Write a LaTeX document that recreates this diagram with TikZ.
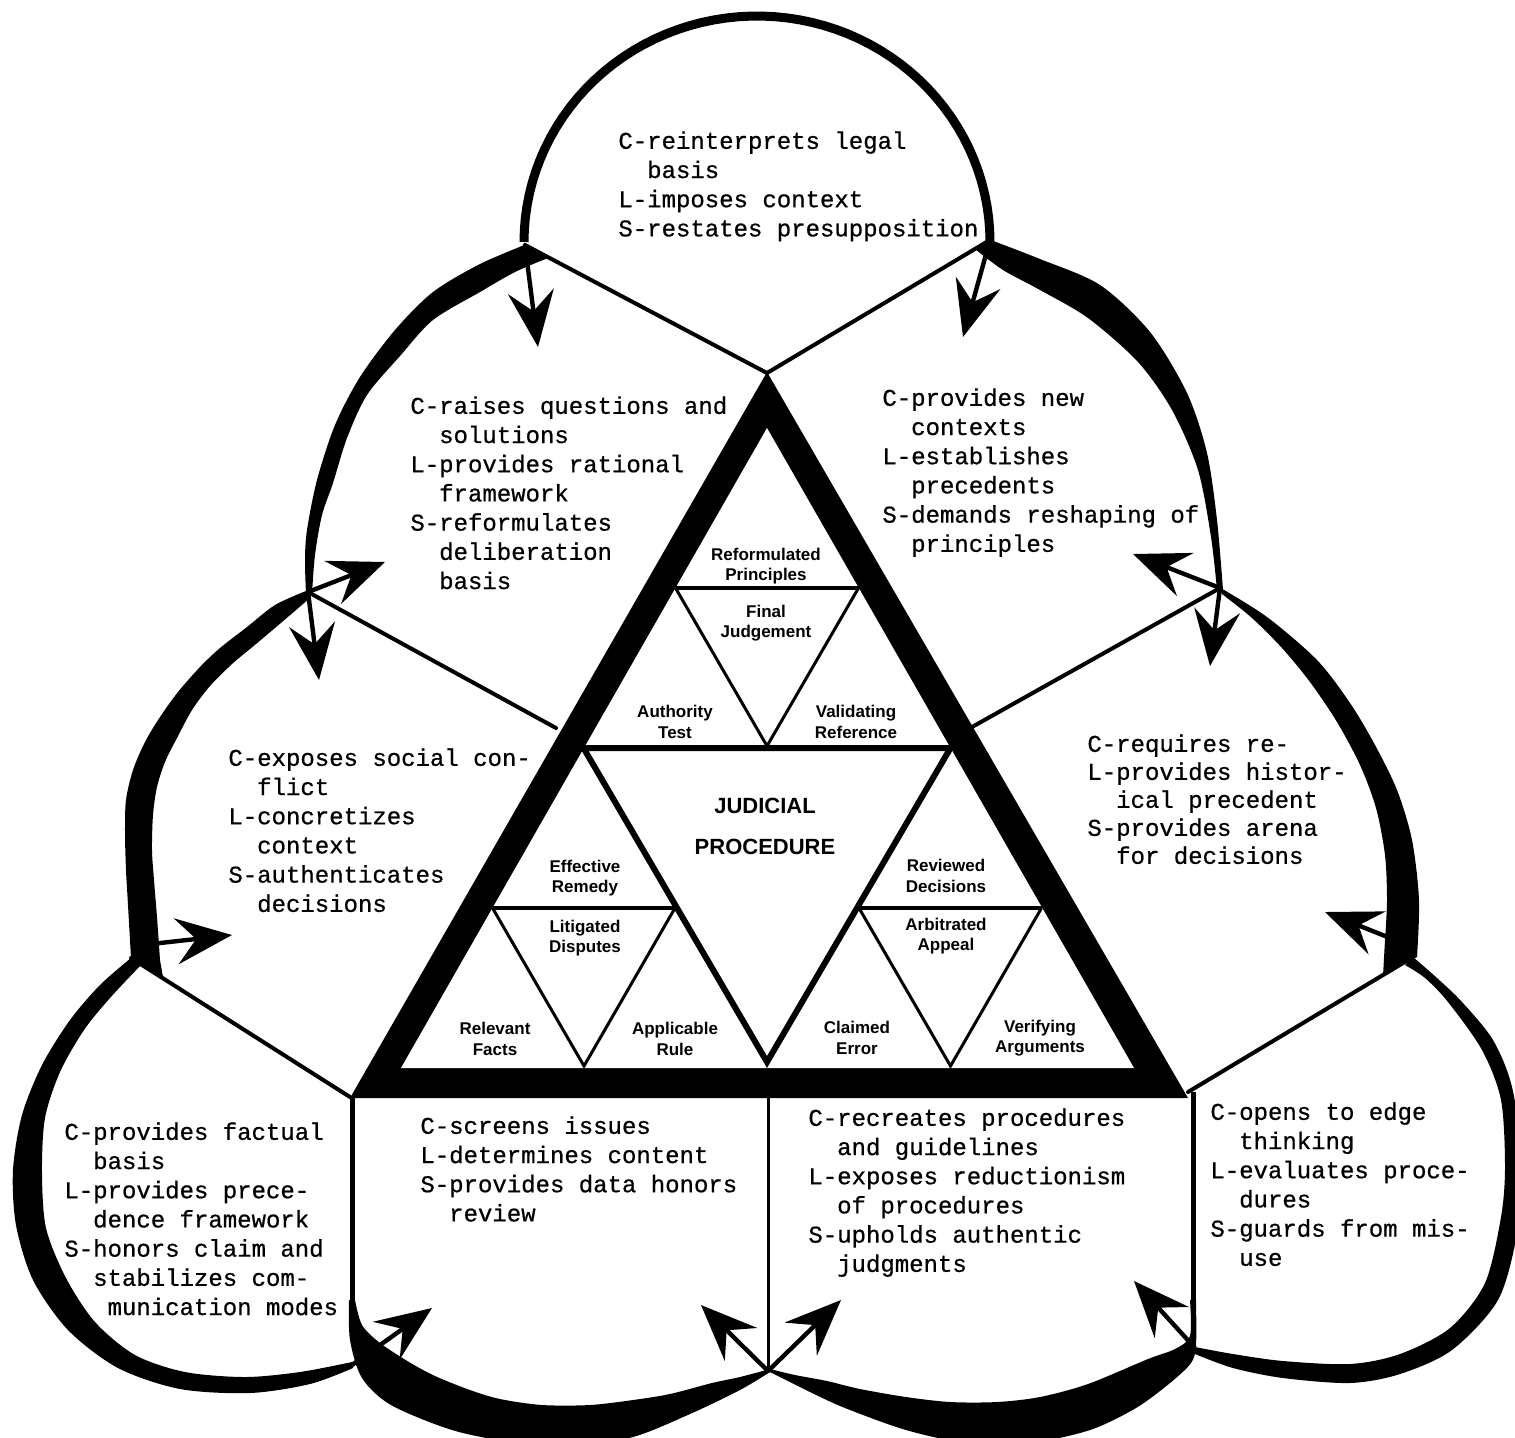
\documentclass[tikz,border=0pt]{standalone}
\usepackage{fontspec}
\setmonofont[FakeBold=0.7]{Liberation Mono}
\setsansfont{Liberation Sans}
\usetikzlibrary{arrows.meta}
\newcommand{\tind}{\hspace*{14.4pt}}
\newcommand{\tindd}{\hspace*{21.6pt}}
\tikzset{
  band/.style={fill=black},
  sepline/.style={line width=2pt, line cap=round},
  arr/.style={line width=2.2pt, -{Stealth[length=28pt,width=23pt,inset=10pt]}},
  txt/.style={font=\ttfamily\fontsize{12}{14.6}\selectfont, align=left, anchor=north west, inner sep=0pt},
  lab/.style={font=\sffamily\bfseries\fontsize{8.5}{10.2}\selectfont, align=center, inner sep=0pt},
  bigl/.style={font=\sffamily\bfseries\fontsize{11}{13}\selectfont, inner sep=0pt},
}
\begin{document}
\begin{tikzpicture}[x=0.5pt,y=-0.5pt]
\useasboundingbox (0,0) rectangle (1515,1437);
\clip (0,0) rectangle (1515,1437);
\fill[white] (0,0) rectangle (1515,1437);

% junction coordinates
\coordinate (J1) at (525,245);
\coordinate (J2) at (990,240);
\coordinate (AP) at (767,373);
\coordinate (PL1) at (308,592);
\coordinate (PR1) at (1220,588);
\coordinate (PL2) at (131,958);
\coordinate (PR2) at (1413,957);
\coordinate (TBL) at (350,1097);
\coordinate (TBR) at (1188,1092);
\coordinate (SL) at (556,728);
\coordinate (SR) at (972,727);
\coordinate (VL) at (352,1340);
\coordinate (VR) at (1193,1330);
\coordinate (CB) at (768,1371);
\coordinate (VLt) at (352,1097);
\coordinate (VRt) at (1193,1092);
\coordinate (VCt) at (768,1097);

% top arc
\draw[line width=4.5pt] plot[domain=180:0,samples=60] ({757+233*cos(\x)},{242-226*sin(\x)});

% upper-left band
\fill[band] plot[smooth] coordinates {(527,244) (480,264) (433,292) (395,330) (360,377) (335,425) (317,480) (307,530) (305,560) (306,594)}
 -- plot[smooth] coordinates {(312,594) (315,555) (322,515) (333,483) (347,438) (367,395) (400,356) (433,320) (480,292) (515,272) (548,258)} -- cycle;
% upper-right band
\fill[band] plot[smooth] coordinates {(988,239) (1040,259) (1100,285) (1150,332) (1187,393) (1207,453) (1217,520) (1223,590)}
 -- plot[smooth] coordinates {(1217,590) (1211,537) (1198,470) (1172,410) (1138,362) (1088,318) (1040,290) (1003,270) (975,249)} -- cycle;
% left band
\fill[band] plot[smooth] coordinates {(306,591) (275,605) (247,627) (220,648) (200,667) (178,692) (160,717) (145,742) (133,770) (126,800) (125,833) (126,870) (128,905) (131,958)}
 -- (163,977) -- plot[smooth] coordinates {(160,960) (157,917) (154,880) (152,850) (153,815) (157,787) (165,762) (177,738) (192,710) (210,686) (232,664) (256,644) (282,622) (310,598)} -- cycle;
% right band
\fill[band] plot[smooth] coordinates {(1219,587) (1267,617) (1317,660) (1350,703) (1375,745) (1397,790) (1412,840) (1419,900) (1417,957)}
 -- (1383,976) -- plot[smooth] coordinates {(1385,940) (1387,900) (1385,855) (1376,808) (1360,765) (1337,722) (1310,682) (1282,648) (1252,618) (1222,594)} -- cycle;
% bottom-left band
\fill[band] plot[smooth] coordinates {(131,958) (100,985) (70,1020) (42,1065) (22,1115) (13,1170) (16,1225) (33,1280) (68,1330) (118,1368) (180,1389) (250,1393) (310,1384) (353,1368)}
 -- plot[smooth] coordinates {(352,1362) (300,1372) (245,1377) (185,1372) (135,1355) (95,1322) (66,1278) (46,1228) (42,1172) (45,1118) (60,1072) (84,1030) (110,998) (140,966)} -- cycle;
% bottom-center-left band
\fill[band] plot[smooth] coordinates {(349,1300) (350,1340) (362,1378) (391,1405) (452,1430) (512,1442) (575,1445) (633,1437) (690,1414) (740,1390) (770,1372)}
 -- plot[smooth] coordinates {(770,1369) (740,1377) (712,1383) (670,1394) (633,1400) (590,1405) (542,1405) (500,1399) (470,1390) (435,1376) (409,1362) (380,1343) (362,1325) (355,1300)} -- cycle;
% bottom-center-right band
\fill[band] plot[smooth] coordinates {(770,1372) (810,1392) (845,1408) (906,1430) (967,1443) (1030,1443) (1090,1430) (1136,1408) (1170,1383) (1191,1363) (1196,1345) (1196,1300)}
 -- plot[smooth] coordinates {(1190,1300) (1190,1336) (1175,1349) (1148,1359) (1088,1384) (1040,1397) (997,1402) (950,1402) (906,1397) (860,1389) (827,1381) (795,1375) (770,1369)} -- cycle;
% bottom-right band
\fill[band] plot[smooth] coordinates {(1413,957) (1437,978) (1462,1002) (1493,1040) (1512,1087) (1522,1160) (1517,1233) (1498,1300) (1452,1350) (1400,1374) (1350,1383) (1283,1378) (1233,1368) (1195,1354)}
 -- plot[smooth] coordinates {(1195,1347) (1233,1354) (1283,1361) (1350,1364) (1400,1354) (1450,1328) (1485,1283) (1501,1217) (1505,1167) (1501,1100) (1482,1050) (1448,1002) (1425,978) (1405,965)} -- cycle;

% separator lines
\draw[sepline] (J1) -- (AP) -- (J2);
\draw[sepline] (PL1) -- (SL);
\draw[sepline] (PR1) -- (SR);
\draw[sepline] (PL2) -- (TBL);
\draw[sepline] (PR2) -- (TBR);
\draw[line width=2.5pt] (VLt) -- (VL);
\draw[line width=2.5pt] (VRt) -- (VR);
\draw[line width=1.5pt] (VCt) -- (CB);

% main triangle
\fill[black] (350,1098) -- (767,372) -- (1188,1098) -- cycle;
\fill[white] (401,1068) -- (767,428) -- (1134,1068) -- cycle;
% central inverted triangle
\draw[line width=3pt, line join=miter] (583.5,748) -- (950.5,748) -- (767,1062) -- cycle;
% small inverted triangles
\draw[line width=1.5pt] (675.5,588) -- (767,746) -- (858.5,588);
\draw[line width=2pt] (675.5,588) -- (858.5,588);
\draw[line width=1.5pt] (492.5,908) -- (584,1066) -- (675,908);
\draw[line width=2pt] (492.5,908) -- (675,908);
\draw[line width=1.5pt] (859,908) -- (950.5,1066) -- (1041.5,908);
\draw[line width=2pt] (859,908) -- (1041.5,908);

% inner labels
\node[lab] (reform) at (766,566) {Reformulated\\Principles};
\node[lab] (finalj) at (766,623) {Final\\Judgement};
\node[lab] (auth) at (675,722) {Authority\\Test};
\node[lab] (valid) at (856,722) {Validating\\Reference};
\node[bigl] (jud) at (765,806) {JUDICIAL};
\node[bigl] (proc) at (765,847) {PROCEDURE};
\node[lab] (effrem) at (585,878) {Effective\\Remedy};
\node[lab] (litig) at (585,938) {Litigated\\Disputes};
\node[lab] (revdec) at (946,876) {Reviewed\\Decisions};
\node[lab] (arbit) at (946,936) {Arbitrated\\Appeal};
\node[lab] (relfac) at (495,1039) {Relevant\\Facts};
\node[lab] (apprule) at (675,1039) {Applicable\\Rule};
\node[lab] (claim) at (857,1038) {Claimed\\Error};
\node[lab] (verif) at (1040,1038) {Verifying\\Arguments};

% petal texts
\node[txt] (ttop) at (618,131) {C-reinterprets legal\\\tind basis\\L-imposes context\\S-restates presupposition};
\node[txt] (tul) at (410,396) {C-raises questions and\\\tind solutions\\L-provides rational\\\tind framework\\S-reformulates\\\tind deliberation\\\tind basis};
\node[txt] (tur) at (882,388) {C-provides new\\\tind contexts\\L-establishes\\\tind precedents\\S-demands reshaping of\\\tind principles};
\node[txt] (tl) at (228,748) {C-exposes social con-\\\tind flict\\L-concretizes\\\tind context\\S-authenticates\\\tind decisions};
\node[txt, font=\ttfamily\fontsize{12}{14}\selectfont] (tr) at (1087,734) {C-requires re-\\L-provides histor-\\\tind ical precedent\\S-provides arena\\\tind for decisions};
\node[txt] (tbl) at (64,1122) {C-provides factual\\\tind basis\\L-provides prece-\\\tind dence framework\\S-honors claim and\\\tind stabilizes com-\\\tindd munication modes};
\node[txt] (tbcl) at (420,1116) {C-screens issues\\L-determines content\\S-provides data honors\\\tind review};
\node[txt] (tbcr) at (808,1108) {C-recreates procedures\\\tind and guidelines\\L-exposes reductionism\\\tind of procedures\\S-upholds authentic\\\tind judgments};
\node[txt] (tbr) at (1210,1102) {C-opens to edge\\\tind thinking\\L-evaluates proce-\\\tind dures\\S-guards from mis-\\\tind use};

% arrows (continuations of the arcs)
\coordinate (a1) at (538,347);
\coordinate (a2) at (963,337);
\coordinate (a3) at (319,680);
\coordinate (a4) at (385,562);
\coordinate (a5) at (1210,666);
\coordinate (a6) at (1133,554);
\coordinate (a7t) at (142,945);
\coordinate (a7) at (232,935);
\coordinate (a8t) at (1395,940);
\coordinate (a8) at (1325,912);
\coordinate (a9t) at (352,1365);
\coordinate (a9) at (432,1308);
\coordinate (a10) at (701,1305);
\coordinate (a11) at (841,1300);
\coordinate (a12t) at (1195,1348);
\coordinate (a12) at (1134,1281);
\draw[arr] (J1) -- (a1);
\draw[arr] (J2) -- (a2);
\draw[arr] (PL1) -- (a3);
\draw[arr] (PL1) -- (a4);
\draw[arr] (PR1) -- (a5);
\draw[arr] (PR1) -- (a6);
\draw[arr] (a7t) -- (a7);
\draw[arr] (a8t) -- (a8);
\draw[arr] (a9t) -- (a9);
\draw[arr] (CB) -- (a10);
\draw[arr] (CB) -- (a11);
\draw[arr] (a12t) -- (a12);
\end{tikzpicture}
\end{document}
